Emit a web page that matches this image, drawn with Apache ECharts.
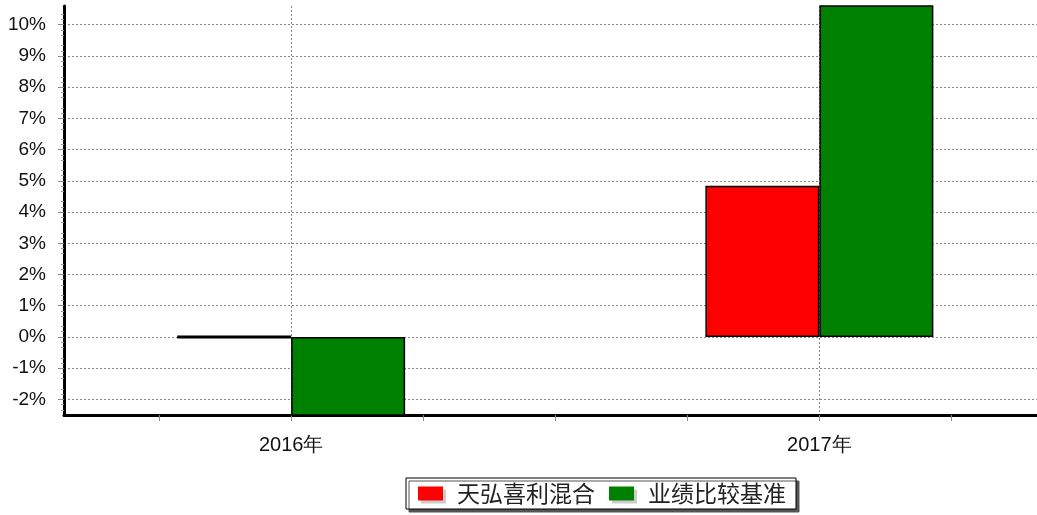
<!DOCTYPE html>
<html>
<head>
<meta charset="utf-8">
<script src="https://cdn.jsdelivr.net/npm/echarts@6/dist/echarts.min.js"></script>
<style>
  html, body { margin: 0; padding: 0; background: #fff; }
  #main { width: 1037px; height: 515px; }
</style>
</head>
<body>
<div id="main"></div>
<script>
// 数据
const years = [2016, 2017];
const fundName = '天弘喜利混合';
const benchName = '业绩比较基准';
const fundValues = [0, 4.84];
const benchValues = [-3.2, 12.5];   // 超出坐标范围的部分被裁掉，按估计值
const yTicks = [-2, -1, 0, 1, 2, 3, 4, 5, 6, 7, 8, 9, 10];
const xTicks = [2015.75, 2016, 2016.25, 2016.5, 2016.75, 2017, 2017.25];

const chart = echarts.init(document.getElementById('main'));

const fontEn = 'Liberation Sans, Arial, sans-serif';
const fontCn = 'Noto Sans CJK SC, sans-serif';

// 值为 0 的柱子画成一条粗黑线
function toBarData(values) {
    return years.map((y, i) => {
        const item = { value: [y, values[i]] };
        if (values[i] === 0) item.itemStyle = { borderWidth: 3 };
        return item;
    });
}

const option = {
    animation: false,
    backgroundColor: '#fff',
    grid: { left: 64, right: 0, top: 6, bottom: 100 },
    xAxis: [
        {
            type: 'value',
            min: 2015.57,
            max: 2017.412,
            axisLine: { onZero: false, lineStyle: { color: '#000', width: 3 } },
            axisTick: { customValues: xTicks, length: 6, lineStyle: { color: '#888', width: 1 } },
            axisLabel: {
                customValues: years,
                formatter: v => v + '年',
                color: '#111',
                fontSize: 20,
                fontFamily: fontEn,
                margin: 20
            },
            splitLine: { show: false }
        },
        {
            // 只用来画 2016、2017 的竖向网格线
            type: 'value',
            min: 2015.57,
            max: 2017.412,
            position: 'bottom',
            axisLine: { show: false },
            axisTick: { show: false, customValues: years },
            axisLabel: { show: false },
            splitLine: { show: true, lineStyle: { color: '#888', width: 1, type: [2, 2] } }
        }
    ],
    yAxis: {
        type: 'value',
        min: -2.5,
        max: 10.6,
        interval: 0.5,
        axisLine: { onZero: false, lineStyle: { color: '#000', width: 3 } },
        axisTick: { customValues: yTicks, length: 6, lineStyle: { color: '#888', width: 1 } },
        minorTick: { show: true, splitNumber: 3, length: 3, lineStyle: { color: '#999' } },
        axisLabel: {
            customValues: yTicks,
            formatter: v => v + '%',
            color: '#111',
            fontSize: 19,
            fontFamily: fontEn,
            margin: 18
        },
        splitLine: { show: true, lineStyle: { color: '#888', width: 1, type: [2, 2] } }
    },
    legend: {
        left: 406,
        top: 478,
        padding: [4, 10, 4, 12],
        itemGap: 14,
        itemWidth: 25,
        itemHeight: 14,
        icon: 'rect',
        backgroundColor: '#fff',
        borderColor: '#000',
        borderWidth: 1,
        shadowColor: '#555',
        shadowOffsetX: 3,
        shadowOffsetY: 3,
        shadowBlur: 0,
        itemStyle: { borderWidth: 0, shadowColor: '#ccc', shadowOffsetX: 3, shadowOffsetY: 3, shadowBlur: 0 },
        textStyle: { fontSize: 23, color: '#222', fontFamily: fontCn, padding: [0, 0, 0, 9] },
        data: [fundName, benchName]
    },
    series: [
        {
            name: fundName,
            type: 'bar',
            barWidth: 114,
            barGap: 0,
            itemStyle: { color: '#ff0000', borderColor: '#000', borderWidth: 1.5 },
            data: toBarData(fundValues)
        },
        {
            name: benchName,
            type: 'bar',
            barWidth: 114,
            barGap: 0,
            itemStyle: { color: '#008000', borderColor: '#000', borderWidth: 1.5 },
            data: toBarData(benchValues)
        }
    ]
};

chart.setOption(option);
</script>
</body>
</html>
